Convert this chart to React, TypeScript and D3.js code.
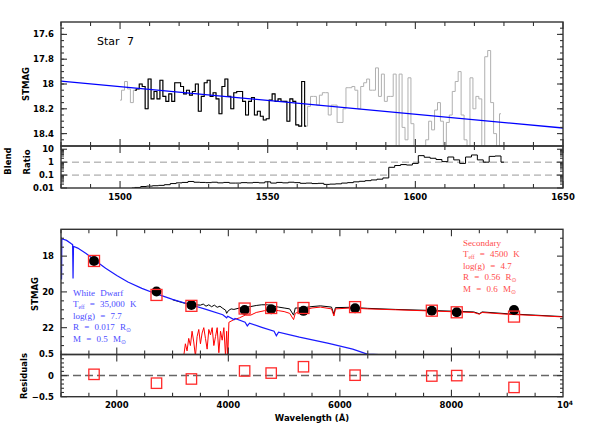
import React from "react";
import * as d3 from "d3";

// ---- top panel: UV spectrum, STMAG per 1 A bin starting at specStart
const specStart = 1500;
const specMag = [
  18.13, 18.05, 17.98, 18.04, 18.15,
  18.05, 18.04, 18.0, 18.02, 18.2, 17.96, 18.12, 18.06, 18.12, 17.97,
  18.1, 18.14, 18.08, 18.14, 17.99, 17.99, 18.02, 18.08, 18.05, 18.09,
  18.06, 18.0, 18.22, 18.1, 17.99, 17.97, 18.1, 18.07, 18.12, 18.24,
  18.02, 17.96, 18.1, 18.2, 18.07, 18.06, 18.06, 18.14, 18.25, 18.14,
  18.11, 18.25, 18.22, 18.26, 18.29, 18.28, 18.13, 18.08, 18.14, 18.12,
  18.14, 18.14, 18.3, 18.12, 18.14, 18.33, 18.34, 17.98, 18.34,
  18.18, 18.1, 18.1, 18.17, 18.09, 18.07, 18.07, 18.25, 18.17, 18.17,
  18.31, 18.31, 18.2, 18.03, 18.03, 18.02, 18.05, 18.2, 18.02, 17.99,
  17.96, 18.05, 18.05, 17.87, 18.1, 17.92, 18.14, 18.1, 18.1, 17.92,
  18.55, 17.92, 18.35, 18.45, 17.95, 18.32, 18.55, 18.6, 18.6, 18.6,
  18.45, 18.3, 18.37, 18.21, 18.15, 18.3, 18.55, 18.31, 18.25, 18.06,
  17.98, 17.9, 18.25, 18.45, 18.55, 17.95, 18.2, 18.1, 18.12, 18.55,
  17.78, 17.73, 18.15, 18.4, 18.55, 18.24,
];
const goodRange = [1505, 1563];
const fitWave = [1480, 1650];
const fitMag = [17.976, 18.355];

// ---- blend ratio, every 2 A from blendStart
const blendStart = 1504;
const blendRatio = [
  0.01, 0.011, 0.013, 0.014, 0.015, 0.016, 0.018, 0.022, 0.025, 0.027,
  0.032, 0.028, 0.027, 0.026, 0.028, 0.025, 0.027, 0.024, 0.024, 0.026,
  0.025, 0.027, 0.025, 0.03, 0.024, 0.027, 0.025, 0.028, 0.026, 0.023,
  0.024, 0.022, 0.023, 0.019, 0.02, 0.021, 0.024, 0.026, 0.03, 0.033,
  0.037, 0.042, 0.048, 0.06, 0.4, 0.55, 0.65, 0.6, 0.8, 3.2,
  2.4, 2.0, 1.6, 1.1, 2.5, 1.5, 0.8, 2.5, 3.6, 1.5,
  1.0, 2.8, 3.0, 1.0,
];
const blendLevels = [1, 0.1];

// ---- bottom panel: SED models [wavelength, STMAG]
const wdModel = [
  [1000, 17.05], [1006, 17.02], [1010, 19.3], [1015, 17.03], [1100, 17.12],
  [1180, 17.3], [1208, 17.36], [1216, 19.25], [1224, 17.45], [1300, 17.55],
  [1450, 17.85], [1600, 18.22], [1800, 18.68], [2000, 19.08], [2200, 19.45],
  [2450, 19.8], [2700, 20.1], [3000, 20.42], [3340, 20.73], [3600, 20.98],
  [3900, 21.28], [3970, 21.45], [3990, 21.36], [4102, 21.55], [4120, 21.48],
  [4300, 21.7], [4340, 21.9], [4380, 21.75], [4600, 21.98], [4820, 22.2],
  [4861, 22.45], [4900, 22.25], [5275, 22.53], [5800, 22.88], [6230, 23.2],
  [6490, 23.48], [6700, 23.5],
];
const compModel = [
  [3000, 20.44], [3200, 20.62], [3300, 20.68], [3400, 20.72], [3500, 20.74],
  [3550, 20.68], [3600, 20.8], [3650, 20.72], [3700, 20.83], [3750, 20.74],
  [3800, 20.86], [3850, 20.8], [3900, 20.92], [3950, 21.02], [3970, 21.2],
  [4000, 21.05], [4050, 20.95], [4100, 20.98], [4200, 20.9], [4300, 20.86],
  [4400, 20.82], [4500, 20.76], [4600, 20.72], [4700, 20.72], [4800, 20.78],
  [4900, 20.85], [5000, 20.9], [5100, 20.95], [5170, 21.3], [5200, 20.9],
  [5300, 20.9], [5500, 20.82], [5650, 20.78], [5850, 20.85], [5893, 21.25],
  [5920, 20.88], [6200, 20.86], [6500, 20.92], [7000, 20.98], [7660, 21.04],
  [8400, 21.12], [8500, 21.22], [8550, 21.12], [9000, 21.22], [9500, 21.3],
  [10000, 21.38],
];
const secModel = [
  [3200, 23.6], [3230, 22.9], [3260, 23.3], [3290, 22.6], [3320, 23.0],
  [3350, 22.2], [3380, 22.8], [3410, 23.6], [3440, 22.5], [3470, 22.1],
  [3500, 22.9], [3530, 22.3], [3560, 22.0], [3590, 22.6], [3620, 23.2],
  [3650, 22.1], [3680, 22.4], [3710, 22.0], [3740, 23.0], [3770, 22.5],
  [3800, 22.0], [3830, 23.4], [3860, 22.2], [3890, 22.7], [3920, 22.0],
  [3950, 23.6], [3970, 22.2], [3990, 23.6], [4010, 21.7], [4100, 21.55],
  [4200, 21.45], [4300, 21.3], [4400, 21.3], [4500, 21.15], [4650, 21.05],
  [4800, 21.0], [4900, 21.05], [5000, 21.1], [5100, 21.2], [5170, 21.55],
  [5200, 21.2], [5300, 21.05], [5500, 20.9], [5650, 20.85], [5850, 20.95],
  [5893, 21.35], [5920, 20.95], [6200, 20.9], [6500, 20.95], [7000, 21.0],
  [7660, 21.07], [8400, 21.15], [8500, 21.25], [8550, 21.15], [9000, 21.25],
  [9500, 21.32], [10000, 21.4],
];

// photometry
const photWave = [1592, 2712, 3338, 4292, 4768, 5347, 6272, 7648, 8095, 9122];
const photObs = [18.27, 19.98, 20.73, 21.01, 20.97, 21.06, 20.91, 21.05, 21.14, 21.01];
const photModel = [18.27, 20.17, 20.78, 20.93, 20.9, 20.9, 20.85, 21.05, 21.14, 21.38];
const photResid = [0.03, -0.18, -0.08, 0.11, 0.06, 0.21, 0.01, -0.01, 0.0, -0.28];

const wdLines = ["White Dwarf", "T|35,000 K", "log(g) = 7.7", "R = 0.017 R", "M = 0.5 M"];
const secLines = ["Secondary", "T|4500 K", "log(g) = 4.7", "R = 0.56 R", "M = 0.6 M"];

const L = 61, R = 563;
const boldFont = { fontFamily: "DejaVu Sans", fontWeight: "bold", fontSize: 8.5 };

function Frame({ box, x, y, xMaj, xMin, yMaj, yMin }) {
  const { top, bottom } = box;
  const out = [];
  const col = "#333";
  xMaj.forEach((v, i) => {
    out.push(<line key={"xa" + i} x1={x(v)} x2={x(v)} y1={bottom} y2={bottom - 7} stroke={col} />);
    out.push(<line key={"xb" + i} x1={x(v)} x2={x(v)} y1={top} y2={top + 7} stroke={col} />);
  });
  xMin.forEach((v, i) => {
    out.push(<line key={"xc" + i} x1={x(v)} x2={x(v)} y1={bottom} y2={bottom - 4} stroke={col} />);
    out.push(<line key={"xd" + i} x1={x(v)} x2={x(v)} y1={top} y2={top + 4} stroke={col} />);
  });
  yMaj.forEach((v, i) => {
    out.push(<line key={"ya" + i} x1={L} x2={L + 6} y1={y(v)} y2={y(v)} stroke={col} />);
    out.push(<line key={"yb" + i} x1={R} x2={R - 6} y1={y(v)} y2={y(v)} stroke={col} />);
  });
  yMin.forEach((v, i) => {
    out.push(<line key={"yc" + i} x1={L} x2={L + 3} y1={y(v)} y2={y(v)} stroke={col} />);
    out.push(<line key={"yd" + i} x1={R} x2={R - 3} y1={y(v)} y2={y(v)} stroke={col} />);
  });
  return (
    <g strokeWidth={1.1}>
      {out}
      <rect x={L} y={top} width={R - L} height={bottom - top} fill="none" stroke={col} strokeWidth={1.4} />
    </g>
  );
}

function Annot({ lines, x, y0, color }) {
  return (
    <g fill={color} fontFamily="Liberation Serif" fontSize={9} style={{ whiteSpace: "pre" }} wordSpacing={3}>
      {lines.map((s, i) => {
        const y = y0 + i * 11.6;
        if (s.includes("|")) {
          const rest = s.split("|")[1];
          return (
            <text key={i} x={x} y={y}>
              T<tspan fontSize={5.5} dy={2}>eff</tspan>
              <tspan dy={-2}>{" = " + rest}</tspan>
            </text>
          );
        }
        if (s.startsWith("R =") || s.startsWith("M =")) {
          return (
            <text key={i} x={x} y={y}>
              {s}
              <tspan fontSize={6} dy={2} fontFamily="DejaVu Sans">⊙</tspan>
            </text>
          );
        }
        return <text key={i} x={x} y={y}>{s}</text>;
      })}
    </g>
  );
}

export default function App() {
  const xTop = d3.scaleLinear().domain([1480, 1650]).range([L, R]);
  const yTop = d3.scaleLinear().domain([17.5, 18.5]).range([22, 146]);
  const yBlend = d3.scaleLog().domain([0.01, 17.8]).range([188, 146]);
  const xBot = d3.scaleLinear().domain([1000, 10000]).range([L, R]);
  const yBot = d3.scaleLinear().domain([16.5, 23.5]).range([229.3, 354.5]);
  const yRes = d3.scaleLinear().domain([-0.5, 0.5]).range([396.7, 354.5]);

  const spec = specMag.map((m, i) => [specStart + i, m]);
  const good = spec.filter((d) => d[0] >= goodRange[0] && d[0] <= goodRange[1]);
  const stepTop = d3.line().x((d) => xTop(d[0])).y((d) => yTop(d[1])).curve(d3.curveStep);
  const blend = blendRatio.map((v, i) => [blendStart + i * 2, v]);
  const blendLine = d3.line().x((d) => xTop(d[0])).y((d) => yBlend(d[1])).curve(d3.curveStep);
  const modelLine = d3.line().x((d) => xBot(d[0])).y((d) => yBot(d[1]));

  const topXMaj = [1500, 1550, 1600, 1650];
  const topXMin = d3.range(1480, 1651, 10).filter((v) => v % 50 !== 0);
  const logMinor = [];
  [0.01, 0.1, 1].forEach((d) => d3.range(2, 10).forEach((k) => logMinor.push(d * k)));
  const botXMaj = [2000, 4000, 6000, 8000];
  const botXMin = d3.range(1000, 10001, 500).filter((v) => v % 2000 !== 0);

  return (
    <svg width={598} height={447} style={{ position: "absolute", left: 0, top: 0, background: "#fff" }}>
      <defs>
        <clipPath id="cTop"><rect x={L} y={22} width={R - L} height={124} /></clipPath>
        <clipPath id="cBlend"><rect x={L} y={146} width={R - L} height={42} /></clipPath>
        <clipPath id="cBot"><rect x={L} y={229.3} width={R - L} height={125.2} /></clipPath>
        <clipPath id="cRes"><rect x={L} y={354.5} width={R - L} height={42.2} /></clipPath>
      </defs>

      {/* top panel */}
      <g clipPath="url(#cTop)" fill="none">
        <path d={stepTop(spec)} stroke="#b0b0b0" strokeWidth={1} />
        <path d={stepTop(good)} stroke="#000" strokeWidth={1.1} />
        <line x1={xTop(fitWave[0])} x2={xTop(fitWave[1])} y1={yTop(fitMag[0])} y2={yTop(fitMag[1])} stroke="#0000ff" strokeWidth={1.3} />
      </g>
      <Frame box={{ top: 22, bottom: 146 }} x={xTop} y={yTop} xMaj={topXMaj} xMin={topXMin}
        yMaj={[17.6, 17.8, 18, 18.2, 18.4]} yMin={d3.range(17.55, 18.5, 0.05)} />
      <g {...boldFont} textAnchor="end">
        {[17.6, 17.8, 18, 18.2, 18.4].map((v) => (
          <text key={v} x={54} y={yTop(v)} dy="0.35em">{v}</text>
        ))}
      </g>
      <text x={97} y={45} fontFamily="DejaVu Sans" fontSize={11} wordSpacing={4}>Star 7</text>
      <text transform="translate(26,84) rotate(-90)" textAnchor="middle" dy="0.35em" {...boldFont}>STMAG</text>

      {/* blend ratio */}
      <g clipPath="url(#cBlend)" fill="none">
        {blendLevels.map((v) => (
          <line key={v} x1={L} x2={R} y1={yBlend(v)} y2={yBlend(v)} stroke="#999" strokeDasharray="7,4" />
        ))}
        <path d={blendLine(blend)} stroke="#000" strokeWidth={1} />
      </g>
      <Frame box={{ top: 146, bottom: 188 }} x={xTop} y={yBlend} xMaj={topXMaj} xMin={topXMin}
        yMaj={[0.01, 0.1, 1, 10]} yMin={logMinor} />
      <g {...boldFont} textAnchor="end">
        {[10, 1, 0.1, 0.01].map((v) => (
          <text key={v} x={54} y={yBlend(v)} dy="0.35em">{v}</text>
        ))}
      </g>
      <g {...boldFont} textAnchor="middle">
        {topXMaj.map((v) => (
          <text key={v} x={xTop(v)} y={200}>{v}</text>
        ))}
      </g>
      <text transform="translate(8,161) rotate(-90)" textAnchor="middle" dy="0.35em" {...boldFont}>Blend</text>
      <text transform="translate(27,162) rotate(-90)" textAnchor="middle" dy="0.35em" {...boldFont}>Ratio</text>

      {/* SED panel */}
      <g clipPath="url(#cBot)" fill="none">
        <path d={modelLine(compModel)} stroke="#000" strokeWidth={1} />
        <path d={modelLine(secModel)} stroke="#ff0000" strokeWidth={1} />
        <path d={modelLine(wdModel)} stroke="#1a1aff" strokeWidth={1.2} />
      </g>
      {photWave.map((w, i) => (
        <circle key={"d" + i} cx={xBot(w)} cy={yBot(photObs[i])} r={5} fill="#000" />
      ))}
      {photWave.map((w, i) => (
        <rect key={"s" + i} x={xBot(w) - 5.5} y={yBot(photModel[i]) - 5.5} width={11} height={11}
          fill="none" stroke="#ff2a2a" strokeWidth={1.3} />
      ))}
      <Frame box={{ top: 229.3, bottom: 354.5 }} x={xBot} y={yBot} xMaj={botXMaj} xMin={botXMin}
        yMaj={[18, 20, 22]} yMin={d3.range(17, 23.5, 0.5).filter((v) => v % 2 !== 0)} />
      <g {...boldFont} textAnchor="end">
        {[18, 20, 22].map((v) => (
          <text key={v} x={54} y={yBot(v)} dy="0.35em">{v}</text>
        ))}
      </g>
      <text transform="translate(35.5,294) rotate(-90)" textAnchor="middle" dy="0.35em" {...boldFont}>STMAG</text>
      <Annot lines={wdLines} x={73} y0={295.5} color="#4b4bff" />
      <Annot lines={secLines} x={463} y0={245.5} color="#ff4b4b" />

      {/* residuals */}
      <g clipPath="url(#cRes)">
        <line x1={L} x2={R} y1={yRes(0)} y2={yRes(0)} stroke="#666" strokeWidth={1.5} strokeDasharray="8,4" />
        {photWave.map((w, i) => (
          <rect key={"r" + i} x={xBot(w) - 5.2} y={yRes(photResid[i]) - 5.2} width={10.4} height={10.4}
            fill="none" stroke="#ff2a2a" strokeWidth={1.3} />
        ))}
      </g>
      <Frame box={{ top: 354.5, bottom: 396.7 }} x={xBot} y={yRes} xMaj={botXMaj} xMin={botXMin}
        yMaj={[-0.5, 0, 0.5]} yMin={[-0.4, -0.3, -0.2, -0.1, 0.1, 0.2, 0.3, 0.4]} />
      <g {...boldFont} textAnchor="end">
        {[0.5, 0, -0.5].map((v) => (
          <text key={v} x={54} y={yRes(v)} dy="0.35em">{v < 0 ? "−" + Math.abs(v) : v}</text>
        ))}
      </g>
      <text transform="translate(24,376) rotate(-90)" textAnchor="middle" dy="0.35em" {...boldFont}>Residuals</text>
      <g {...boldFont} textAnchor="middle">
        {botXMaj.map((v) => (
          <text key={v} x={xBot(v)} y={408}>{v}</text>
        ))}
        <text x={xBot(10000) + 2} y={408}>10<tspan fontSize={6} dy={-3}>4</tspan></text>
      </g>
      <text x={(L + R) / 2} y={421} textAnchor="middle" {...boldFont}>Wavelength (Å)</text>
    </svg>
  );
}
